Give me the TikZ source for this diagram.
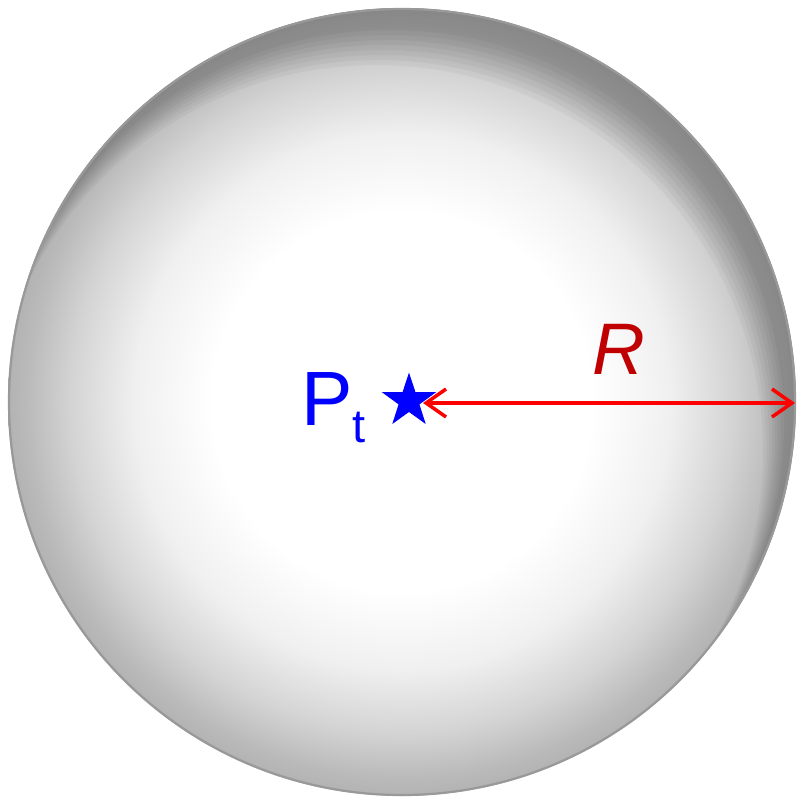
\documentclass[tikz,border=0pt]{standalone}
\usepackage{fontspec}
\setmainfont{Liberation Sans}
\usetikzlibrary{shapes.geometric,arrows.meta}
\definecolor{rlabel}{RGB}{192,0,0}
\pgfdeclareradialshading{sphereshade}{\pgfpoint{0bp}{0bp}}{color(0bp)=(white); color(12bp)=(white); color(17bp)=(black!6); color(21bp)=(black!17); color(23.8bp)=(black!27); color(25bp)=(black!30); color(50bp)=(black!30)}
\tikzset{
  lbl/.style={inner sep=0pt, outer sep=0pt},
  radius arrow/.style={red, line width=3.5pt, {Straight Barb[length=20pt,width=28pt]}-{Straight Barb[length=20pt,width=28pt]}},
  starmark/.style={star, star points=5, star point ratio=2.6, minimum size=57pt, fill=blue, draw=none, inner sep=0pt}
}
\begin{document}
\begin{tikzpicture}[x=1pt,y=-1pt]
\useasboundingbox (0,0) rectangle (796,797);
\fill[white] (0,0) rectangle (796,797);
\coordinate (c) at (402,402);
\shade[shading=sphereshade] (c) circle (394);
\begin{scope}
  \clip (c) circle (394);
  \foreach \i in {0,...,7} {
    \fill[black, opacity=0.03, even odd rule] (0,0) rectangle (796,797) ({402-12-2*\i},{402+22+4*\i}) circle ({394-\i});
  }
\end{scope}
\draw[black!40, line width=2.2pt] (c) circle (393);
\node[starmark] (pt) at (409,401) {};
\coordinate (a) at (423,403);
\coordinate (b) at (795,403);
\draw[radius arrow] (a) -- (b);
\node[lbl, anchor=base west, text=blue, font=\fontsize{77}{80}\selectfont] (P) at (301,425) {P};
\node[lbl, anchor=base west, text=blue, font=\fontsize{47}{50}\selectfont] (t) at (352,442) {t};
\node[lbl, text=rlabel, font=\fontsize{73}{76}\selectfont\itshape] (R) at (619,349) {R};
\end{tikzpicture}
\end{document}
